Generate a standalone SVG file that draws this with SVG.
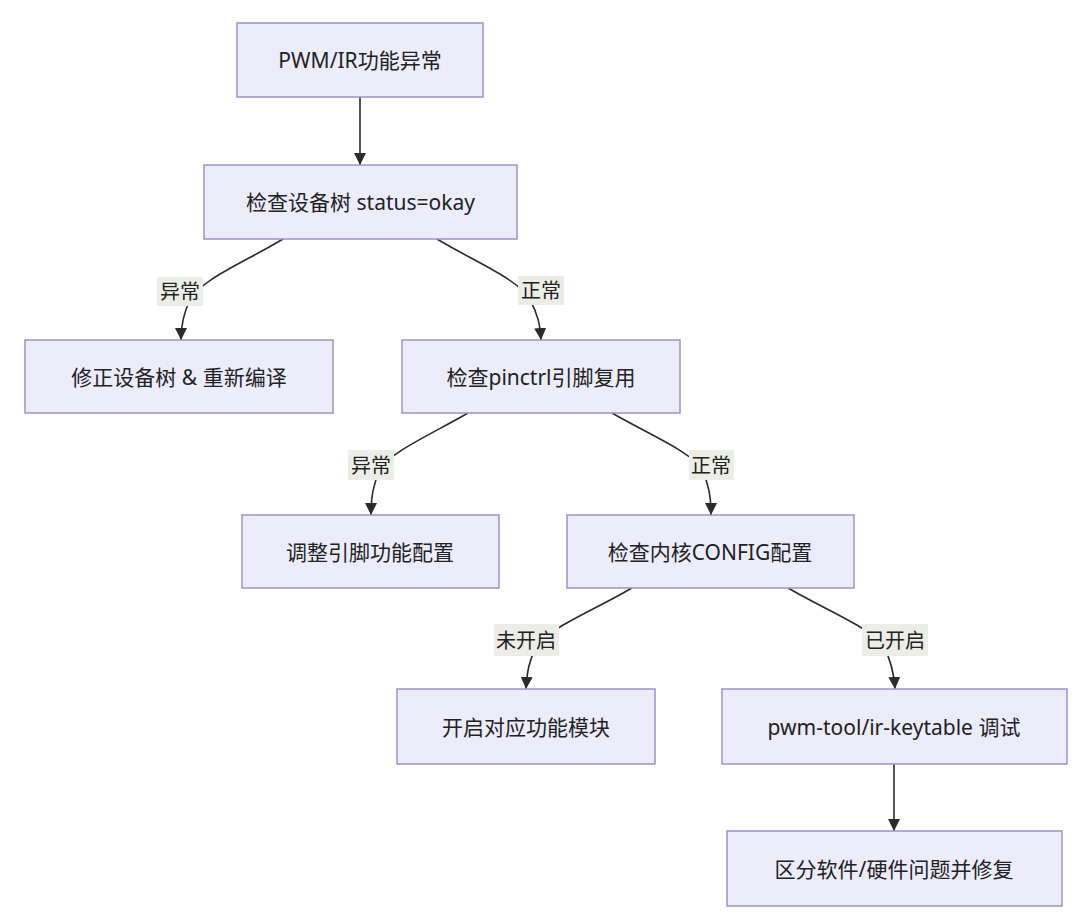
<svg xmlns="http://www.w3.org/2000/svg" width="1080" height="921" viewBox="0 0 1080 921">
<defs>
<style>
.node rect{fill:#ececfb;stroke:#9d92c4;stroke-width:1.5}
.node text{font-family:"Noto Sans","Noto Sans CJK SC",sans-serif;font-size:21px;fill:#222;text-anchor:middle;dominant-baseline:central}
.edges path{fill:none;stroke:#2b2b2b;stroke-width:1.6}
.lbl rect{fill:#ebede6;stroke:none}
.lbl text{font-family:"Noto Sans","Noto Sans CJK SC",sans-serif;font-size:20px;fill:#222;text-anchor:middle;dominant-baseline:central}
</style>
<marker id="arr" viewBox="0 0 10 10" refX="10" refY="5" markerWidth="12" markerHeight="12" markerUnits="userSpaceOnUse" orient="auto">
<path d="M0,0 L10,5 L0,10 z" fill="#2b2b2b"/>
</marker>
</defs>
<rect width="1080" height="921" fill="#ffffff"/>
<g id="connectors" class="edges">
<path d="M360,97 L360,165" marker-end="url(#arr)"/>
<path d="M283,239 C245,262 200,280 190,300 C183,314 181,325 181,340" marker-end="url(#arr)"/>
<path d="M437,239 C475,262 520,280 530,300 C538,314 540,325 541,340" marker-end="url(#arr)"/>
<path d="M468,413 C430,435 390,452 380,470 C373,485 371,497 371,515" marker-end="url(#arr)"/>
<path d="M612,413 C650,435 692,452 702,470 C709,485 711,497 711,515" marker-end="url(#arr)"/>
<path d="M632,588 C594,610 550,628 537,645 C529,660 527,672 526,689" marker-end="url(#arr)"/>
<path d="M788,588 C826,610 870,628 883,645 C891,660 894,672 895,689" marker-end="url(#arr)"/>
<path d="M894,764 L894,831" marker-end="url(#arr)"/>
</g>
<g id="edge-labels">
<g class="lbl"><rect x="157" y="277" width="46" height="29"/><text x="180" y="291">异常</text></g>
<g class="lbl"><rect x="518" y="276" width="46" height="29"/><text x="541" y="290">正常</text></g>
<g class="lbl"><rect x="348" y="450" width="46" height="30"/><text x="371" y="465">异常</text></g>
<g class="lbl"><rect x="689" y="450" width="45" height="30"/><text x="711" y="465">正常</text></g>
<g class="lbl"><rect x="494" y="624" width="65" height="32"/><text x="526" y="640">未开启</text></g>
<g class="lbl"><rect x="862" y="624" width="66" height="32"/><text x="895" y="640">已开启</text></g>
</g>
<g id="n1" class="node"><rect x="237" y="23" width="246" height="74"/><text x="360" y="60">PWM/IR功能异常</text></g>
<g id="n2" class="node"><rect x="204" y="165" width="313" height="74"/><text x="360.5" y="202">检查设备树 status=okay</text></g>
<g id="n3" class="node"><rect x="25" y="340" width="308" height="73"/><text x="179" y="377">修正设备树 &amp; 重新编译</text></g>
<g id="n4" class="node"><rect x="402" y="340" width="278" height="73"/><text x="541" y="377">检查pinctrl引脚复用</text></g>
<g id="n5" class="node"><rect x="242" y="515" width="257" height="73"/><text x="370" y="552">调整引脚功能配置</text></g>
<g id="n6" class="node"><rect x="567" y="515" width="287" height="73"/><text x="710" y="552">检查内核CONFIG配置</text></g>
<g id="n7" class="node"><rect x="397" y="689" width="258" height="75"/><text x="526" y="727">开启对应功能模块</text></g>
<g id="n8" class="node"><rect x="722" y="689" width="345" height="75"/><text x="894" y="727">pwm-tool/ir-keytable 调试</text></g>
<g id="n9" class="node"><rect x="727" y="831" width="335" height="75"/><text x="894" y="869">区分软件/硬件问题并修复</text></g>
</svg>
